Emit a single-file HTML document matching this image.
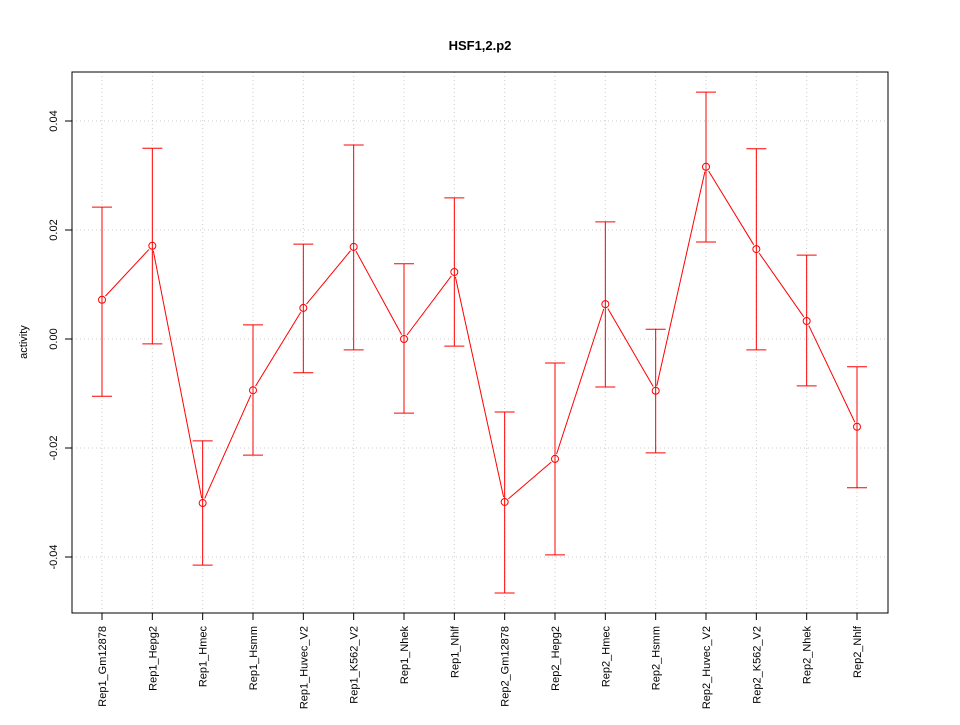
<!DOCTYPE html>
<html><head><meta charset="utf-8"><style>
body{margin:0;background:#fff}
svg text{font-family:"Liberation Sans",sans-serif}
</style></head><body>
<svg id="chart" width="960" height="720" xmlns="http://www.w3.org/2000/svg">
<rect width="960" height="720" fill="#fff"/>
<text x="480" y="50" font-size="13" font-weight="bold" text-anchor="middle">HSF1,2.p2</text>
<text transform="translate(27,342) rotate(-90)" font-size="11" text-anchor="middle">activity</text>
<g id="grid"></g><g id="axes"></g><g id="marks"></g>
<rect x="72" y="72" width="816" height="541" fill="none" stroke="#000" stroke-width="1"/>
</svg>
<script>
const categories=["Rep1_Gm12878","Rep1_Hepg2","Rep1_Hmec","Rep1_Hsmm","Rep1_Huvec_V2","Rep1_K562_V2","Rep1_Nhek","Rep1_Nhlf","Rep2_Gm12878","Rep2_Hepg2","Rep2_Hmec","Rep2_Hsmm","Rep2_Huvec_V2","Rep2_K562_V2","Rep2_Nhek","Rep2_Nhlf"];
const values=[0.0072,0.0171,-0.0301,-0.0094,0.0057,0.0169,0.0000,0.0123,-0.0299,-0.0220,0.0064,-0.0095,0.0316,0.0165,0.0033,-0.0161];
const upper=[0.0242,0.0350,-0.0187,0.0026,0.0174,0.0356,0.0138,0.0259,-0.0134,-0.0044,0.0215,0.0018,0.0453,0.0349,0.0154,-0.0051];
const lower=[-0.0105,-0.0009,-0.0415,-0.0213,-0.0062,-0.0020,-0.0136,-0.0013,-0.0466,-0.0396,-0.0088,-0.0209,0.0178,-0.0020,-0.0086,-0.0273];
const yTicks=[-0.04,-0.02,0.00,0.02,0.04];
const yTickLabels=["-0.04","-0.02","0.00","0.02","0.04"];
const NS="http://www.w3.org/2000/svg";
function xs(i){return 102+i*(857-102)/(categories.length-1);}
function ys(v){return 339-v*5450;}
function mk(tag,attrs,parent){const e=document.createElementNS(NS,tag);for(const k in attrs)e.setAttribute(k,attrs[k]);document.getElementById(parent).appendChild(e);return e;}
yTicks.forEach((t,i)=>{
  const g=mk('line',{x1:72,x2:888,y1:ys(t),y2:ys(t),stroke:'#ccc','stroke-dasharray':'1,3'},'grid');
  
  
  const tk=mk('line',{x1:65,x2:72,y1:ys(t),y2:ys(t),stroke:'#000'},'axes');
  
  
  const y=ys(t);
  const tx=mk('text',{transform:`translate(57,${y}) rotate(-90)`,'font-size':11,'text-anchor':'middle'},'axes');
  tx.textContent=yTickLabels[i];
  
  
});
categories.forEach((c,i)=>{
  const x=xs(i);
  const g=mk('line',{x1:x,x2:x,y1:72,y2:613,stroke:'#ccc','stroke-dasharray':'1,3'},'grid');
  
  
  const tk=mk('line',{x1:x,x2:x,y1:613,y2:620,stroke:'#000'},'axes');
  
  
  const tx=mk('text',{transform:`translate(${x+4},626) rotate(-90)`,'font-size':11,'text-anchor':'end'},'axes');
  tx.textContent=c;
  
  
});
const ax=mk('line',{x1:xs(0),x2:xs(categories.length-1),y1:613,y2:613,stroke:'#000'},'axes');


const ay=mk('line',{x1:72,x2:72,y1:ys(yTicks[0]),y2:ys(yTicks[yTicks.length-1]),stroke:'#000'},'axes');


const red='#ff0000';
categories.forEach((c,i)=>{
  const x=xs(i);
  const b=mk('line',{x1:x,x2:x,y1:ys(upper[i]),y2:ys(lower[i]),stroke:red},'marks');
  
  
  [upper[i],lower[i]].forEach(v=>{
    const cap=mk('line',{x1:x-10,x2:x+10,y1:ys(v),y2:ys(v),stroke:red},'marks');
    
    
  });
});
for(let i=0;i<values.length-1;i++){
  const x1=xs(i),y1=ys(values[i]),x2=xs(i+1),y2=ys(values[i+1]);
  const dx=x2-x1,dy=y2-y1,L=Math.hypot(dx,dy),r=5;
  const s=mk('line',{x1:x1+dx/L*r,y1:y1+dy/L*r,x2:x2-dx/L*r,y2:y2-dy/L*r,stroke:red},'marks');
  
  
}
values.forEach((v,i)=>{
  const p=mk('circle',{cx:xs(i),cy:ys(v),r:3.5,fill:'none',stroke:red},'marks');
  
  
});
</script>
</body></html>
